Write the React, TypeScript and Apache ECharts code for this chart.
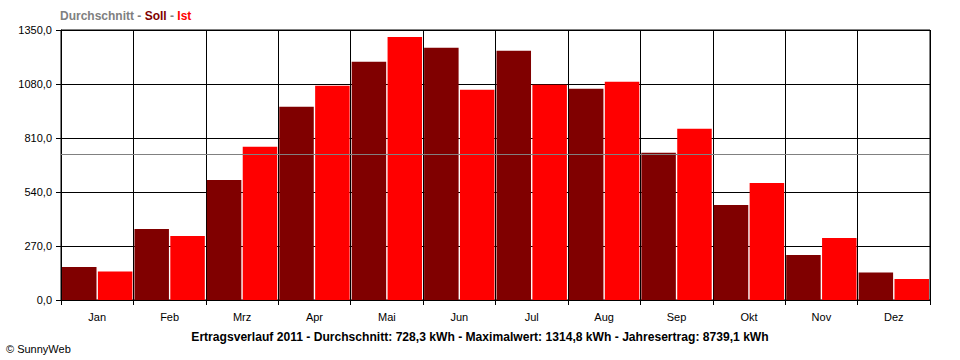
import React, { useEffect, useRef } from "react";
import * as echarts from "echarts";

const months = ["Jan", "Feb", "Mrz", "Apr", "Mai", "Jun", "Jul", "Aug", "Sep", "Okt", "Nov", "Dez"];
const soll = [165, 355, 600, 966, 1191, 1261, 1246, 1056, 736, 475, 225, 137];
const ist = [142, 320, 766, 1071, 1314.8, 1051, 1076, 1091, 856, 585, 310, 105];
const average = 728.3;
const yMin = 0;
const yMax = 1350;
const yStep = 270;
const footerTitle = "Ertragsverlauf 2011 - Durchschnitt: 728,3 kWh - Maximalwert: 1314,8 kWh - Jahresertrag: 8739,1 kWh";
const credit = "© SunnyWeb";

const FONT = "'Liberation Sans', Arial, sans-serif";

export default function App() {
  const ref = useRef<HTMLDivElement>(null);
  useEffect(() => {
    if (!ref.current) return;
    const chart = echarts.init(ref.current, undefined, { renderer: "svg" });
    chart.setOption({
      animation: false,
      backgroundColor: "#ffffff",
      textStyle: { fontFamily: FONT },
      grid: {
        left: 61,
        right: 30,
        top: 30,
        bottom: 60,
        show: true,
        borderColor: "#000000",
        borderWidth: 1,
        backgroundColor: "transparent",
      },
      xAxis: {
        type: "category",
        data: months,
        axisLine: { show: true, lineStyle: { color: "#000000", width: 1 } },
        axisTick: { show: true, length: 5, lineStyle: { color: "#000000" } },
        splitLine: { show: true, lineStyle: { color: "#000000", width: 1 } },
        axisLabel: { color: "#000000", fontSize: 11, margin: 11, fontFamily: FONT },
      },
      yAxis: {
        type: "value",
        min: yMin,
        max: yMax,
        interval: yStep,
        axisLine: { show: true, lineStyle: { color: "#000000", width: 1 } },
        axisTick: { show: true, length: 5, lineStyle: { color: "#000000" } },
        splitLine: { show: true, lineStyle: { color: "#000000", width: 1 } },
        axisLabel: {
          color: "#000000",
          fontSize: 11,
          margin: 9,
          fontFamily: FONT,
          formatter: (v: number) => v.toFixed(1).replace(".", ","),
        },
      },
      series: [
        {
          name: "Soll",
          type: "bar",
          data: soll,
          barWidth: 34.5,
          barGap: "4%",
          itemStyle: { color: "#800000" },
          markLine: {
            silent: true,
            symbol: "none",
            label: { show: false },
            lineStyle: { color: "#808080", width: 1, type: "solid" },
            data: [{ yAxis: average }],
          },
        },
        {
          name: "Ist",
          type: "bar",
          data: ist,
          barWidth: 34.5,
          itemStyle: { color: "#ff0000" },
        },
      ],
      graphic: [
        {
          type: "text",
          left: 60,
          top: 10,
          style: {
            text: "{g|Durchschnitt - }{s|Soll}{g| - }{i|Ist}",
            font: "bold 12px " + FONT,
            rich: {
              g: { fill: "#808080", fontWeight: "bold", fontSize: 12, fontFamily: FONT },
              s: { fill: "#800000", fontWeight: "bold", fontSize: 12, fontFamily: FONT },
              i: { fill: "#ff0000", fontWeight: "bold", fontSize: 12, fontFamily: FONT },
            },
          },
        },
        {
          type: "text",
          x: 480,
          y: 337,
          style: {
            text: footerTitle,
            fill: "#000000",
            font: "bold 12.1px " + FONT,
            align: "center",
            verticalAlign: "middle",
          },
        },
        {
          type: "text",
          x: 6,
          y: 349,
          style: {
            text: credit,
            fill: "#000000",
            font: "11px " + FONT,
            align: "left",
            verticalAlign: "middle",
          },
        },
      ],
    });
    return () => chart.dispose();
  }, []);
  return (
    <div
      ref={ref}
      style={{ position: "fixed", left: 0, top: 0, width: 960, height: 360, background: "#fff" }}
    />
  );
}
